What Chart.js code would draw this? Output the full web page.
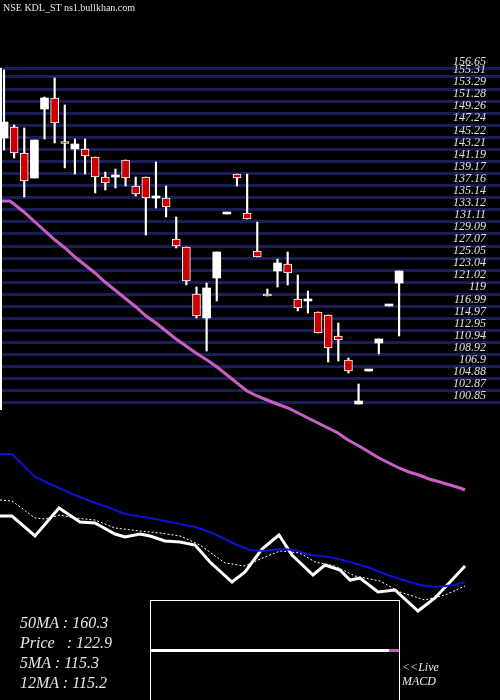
<!DOCTYPE html>
<html><head><meta charset="utf-8">
<script src="https://cdn.jsdelivr.net/npm/chart.js@4"></script>
<style>
html,body{margin:0;padding:0;background:#000;}
#wrap{position:relative;width:500px;height:700px;overflow:hidden;}
#c{position:absolute;left:0;top:0;}
.t{position:absolute;color:#e8e8e8;font-family:"Liberation Serif",serif;white-space:pre;}
</style></head><body>
<div id="wrap">
<canvas id="c" width="500" height="700"></canvas>
<div class="t" style="left:3px;top:2px;font-size:10px;">NSE KDL_ST ns1.bullkhan.com</div>
<div style="position:absolute;left:0;top:68px;width:2px;height:342px;background:#fff"></div>
<div style="position:absolute;left:150px;top:600px;width:248px;height:110px;border:1px solid #fff;"></div>
<div style="position:absolute;left:151px;top:649px;width:238px;height:3px;background:#fff"></div>
<div style="position:absolute;left:389px;top:649px;width:10px;height:3px;background:#c060c0"></div>
<div class="t" style="left:402px;top:660px;font-size:12px;font-style:italic;line-height:14px;">&lt;&lt;Live
MACD</div>
<div class="t" style="left:20px;top:613px;font-size:16px;font-style:italic;line-height:20px;">50MA : 160.3
Price   : 122.9
5MA : 115.3
12MA : 115.2</div>
</div>
<script>
const tickLabels=[156.65,155.31,153.29,151.28,149.26,147.24,145.22,143.21,141.19,139.17,137.16,135.14,133.12,131.11,129.09,127.07,125.05,123.04,121.02,119,116.99,114.97,112.95,110.94,108.92,106.9,104.88,102.87,100.85];
const opens =[145.12,146.95,142.61,138.43,149.96,151.80,144.28,143.28,143.28,141.94,138.60,138.60,141.44,137.10,138.60,135.09,135.09,128.24,126.91,119.06,115.05,121.73,132.42,139.10,132.59,126.24,119.06,122.90,124.07,118.22,117.89,116.05,115.55,112.04,108.03,100.68,106.19,110.87,117.05,120.89];
const closes=[147.79,142.61,137.93,144.78,151.80,147.62,144.20,144.11,142.11,138.60,137.60,138.60,138.43,135.76,135.09,135.20,133.59,127.07,121.23,115.38,120.06,126.07,132.42,138.43,131.58,125.24,118.72,124.24,122.56,116.72,118.22,112.54,110.04,111.37,106.19,101.18,106.19,111.54,117.05,122.90];
const highs =[156.48,147.30,146.79,144.78,151.96,155.14,150.63,144.95,144.95,141.94,139.44,139.94,141.44,138.60,138.60,141.11,137.10,131.92,126.91,120.22,120.89,126.07,132.42,139.10,139.10,131.08,119.89,124.90,126.07,122.23,119.56,116.05,115.55,114.21,108.36,104.02,106.19,111.54,117.05,122.90];
const lows  =[143.11,141.77,135.26,138.43,144.95,144.28,140.11,139.10,139.10,135.93,136.43,136.76,137.10,135.43,128.91,133.42,131.92,126.74,120.56,115.05,109.53,117.89,132.42,137.10,131.58,125.24,118.72,120.22,120.56,116.22,115.88,112.54,107.70,107.86,105.86,100.68,106.19,109.03,117.05,112.04];
// lower-panel indicator readings (panel units)
const ma50X=[0,10,24,35,45,55,65,75,85,95,105,115,126,136,146,156,166,176,186,196,207,217,227,237,247,257,267,277,288,298,308,318,328,338,348,359,369,379,389,399,409,419,429,440,450,460,465];
const ma50Y=[201,201,212,222,231,240,248,257,265,273,282,290,299,307,316,323,331,339,346,353,360,367,375,383,391,396,400,404,408,413,418,423,428,433,440,446,452,458,463,468,472,475,479,482,485,488,490];
const ma12X=[0,12,35,50,70,90,110,125,150,170,195,210,235,250,265,280,295,310,330,350,370,385,400,420,435,455,465];
const ma12Y=[454,454,477,484,493,501,508,514,518,522,527,532,544,550,551,549,550,555,557,562,568,574,579,585,587,585,582];
const ma5X=[0,12,35,45,60,75,95,115,140,160,180,200,225,245,265,280,300,315,335,355,380,400,425,445,465];
const ma5Y=[500,501,518,519,515,518,520,528,531,533,536,545,563,566,557,551,553,562,566,576,581,592,600,595,586];
const priceX=[0,12,35,59,80,95,115,125,140,150,165,180,195,210,232,245,262,279,292,313,325,340,350,360,378,395,418,435,465];
const priceY=[516,516,536,508,522,523,534,537,534,536,541,542,545,562,582,572,549,535,555,575,565,570,580,578,592,590,611,598,566];

const idx=opens.map((_,i)=>i);
const up=opens.map((o,i)=>closes[i]>=o);
const pts=(xs,ys)=>xs.map((x,i)=>({x,y:ys[i]}));
const lineDs=(xs,ys,color,w,dash)=>({type:'line',data:pts(xs,ys),xAxisID:'x2',yAxisID:'y2',borderColor:color,borderWidth:w,borderDash:dash||[],pointRadius:0,tension:0,fill:false,order:5});

new Chart(document.getElementById('c'),{
 type:'bar',
 data:{datasets:[
  lineDs(ma50X,ma50Y,'#c85fc8',3),
  lineDs(ma12X,ma12Y,'#1010d0',2),
  lineDs(ma5X,ma5Y,'#ffffff',1,[2,2]),
  lineDs(priceX,priceY,'#ffffff',3),
  {data:idx.map(i=>({x:i,y:[lows[i],highs[i]]})),xAxisID:'x',yAxisID:'y',backgroundColor:'#fff',barThickness:1.5,grouped:false,minBarLength:1,order:2},
  {data:idx.map(i=>({x:i,y:[opens[i],closes[i]]})),xAxisID:'x',yAxisID:'y',backgroundColor:idx.map(i=>up[i]?'#fff':'#cc0000'),borderColor:'#fff',borderWidth:idx.map(i=>up[i]?0:1),borderSkipped:false,barThickness:8,grouped:false,minBarLength:2,order:1}
 ]},
 options:{responsive:false,animation:false,
  layout:{padding:0},
  plugins:{legend:{display:false},tooltip:{enabled:false}},
  scales:{
   x:{type:'linear',min:-0.395,max:48.96,display:false,offset:false},
   x2:{type:'linear',min:0,max:500,display:false,offset:false},
   y2:{type:'linear',min:0,max:700,reverse:true,display:false},
   y:{type:'linear',position:'right',min:51.23,max:168.17,
     afterBuildTicks:a=>{a.ticks=tickLabels.map(v=>({value:v}));},
     afterFit:a=>{a.width=0;},
     border:{display:false},
     grid:{color:'#1c1c58',lineWidth:3,drawTicks:false},
     ticks:{mirror:true,padding:-14,labelOffset:-7,color:'#e0e0e0',font:{family:'Liberation Serif',size:12,style:'italic'},callback:v=>String(v)}
   }
  }
 }
});
</script>
</body></html>
